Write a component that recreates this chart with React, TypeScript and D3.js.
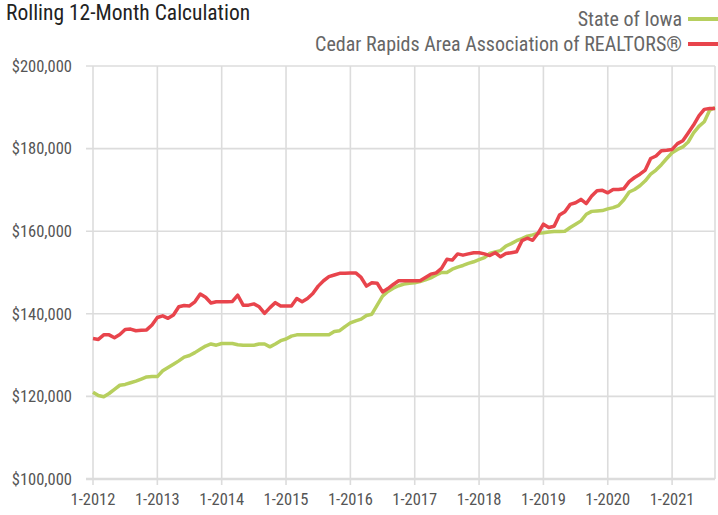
import React from 'react';
import * as d3 from 'd3';

const width = 718;
const height = 515;
const margin = { top: 66, right: 2, bottom: 36, left: 93 };

const yTicks = [100000, 120000, 140000, 160000, 180000, 200000];
const xTickLabels = ['1-2012', '1-2013', '1-2014', '1-2015', '1-2016', '1-2017', '1-2018', '1-2019', '1-2020', '1-2021'];

const seriesNames = ['State of Iowa', 'Cedar Rapids Area Association of REALTORS®'];
const seriesColors = ['#b7cf5e', '#e8444c'];

// monthly rolling 12-month values, 1-2012 .. 9-2021
const iowa = [
  121000, 120200, 119900, 120700, 121700, 122700, 122900, 123300, 123700, 124200, 124700, 124800,
  124800, 126200, 127000, 127800, 128600, 129500, 129900, 130600, 131400, 132200, 132700, 132400,
  132800, 132800, 132800, 132500, 132400, 132400, 132400, 132700, 132700, 132000, 132700, 133500,
  133900, 134600, 134900, 134900, 134900, 134900, 134900, 134900, 134900, 135700, 135900, 136900,
  137800, 138300, 138700, 139600, 139900, 142100, 144300, 145400, 146200, 146800, 147200, 147400,
  147500, 147800, 148200, 148700, 149400, 150000, 150000, 150800, 151300, 151700, 152200, 152600,
  153100, 153600, 154600, 155000, 155300, 156400, 157000, 157700, 158200, 158800, 159100, 159500,
  159600, 159800, 159900, 159900, 160000, 160900, 161700, 162500, 164100, 164800, 164900, 165000,
  165400, 165700, 166200, 167600, 169500, 170100, 171000, 172200, 173800, 174800, 176100, 177600,
  179000, 179800, 180400, 181600, 183800, 185400, 186500, 189300, 189900,
];

const cedarRapids = [
  134000, 133800, 134900, 134900, 134200, 135000, 136200, 136300, 135900, 136000, 136100, 137300,
  139100, 139500, 138900, 139700, 141700, 142000, 141900, 142900, 144800, 144000, 142600, 142900,
  142900, 142900, 143000, 144500, 142100, 142100, 142400, 141700, 140100, 141500, 142700, 141900,
  141900, 141900, 143700, 142900, 143700, 144900, 146700, 148000, 149000, 149400, 149800, 149800,
  149900, 149900, 148800, 146700, 147500, 147400, 145300, 146100, 147100, 148000, 148000, 148000,
  148000, 148000, 148800, 149600, 149900, 151000, 153200, 153000, 154500, 154200, 154500, 154800,
  154800, 154500, 154100, 154800, 153800, 154600, 154800, 155000, 157700, 158300, 157800, 159500,
  161700, 160900, 161200, 163900, 164700, 166500, 166900, 167700, 166700, 168500, 169800, 169900,
  169300, 170100, 170100, 170300, 172000, 173000, 173800, 174800, 177600, 178200, 179500, 179600,
  179800, 181200, 181900, 183800, 185700, 187900, 189500, 189700, 189700,
];

const font = '"Liberation Sans Narrow", "Roboto Condensed", "DejaVu Sans Condensed", sans-serif';

export default function App() {
  const x = d3.scaleLinear()
    .domain([0, iowa.length - 1])
    .range([margin.left, width - margin.right - 1]);
  const y = d3.scaleLinear()
    .domain([100000, 200000])
    .range([height - margin.bottom, margin.top]);

  const line = d3.line<number>()
    .x((_, i) => x(i))
    .y(d => y(d));

  const fmt = d3.format('$,');
  const plotBottom = y(100000);
  const plotRight = x(iowa.length - 1);

  return (
    <svg width={width} height={height} style={{ position: 'absolute', left: 0, top: 0, display: 'block', background: '#fff' }}>
      <text x={6} y={20} fontFamily={font} fontSize={21.5} fill="#222">Rolling 12-Month Calculation</text>

      {seriesNames.map((name, i) => (
        <g key={name}>
          <text x={682} y={26 + i * 25} textAnchor="end" fontFamily={font} fontSize={20} fill="#666">{name}</text>
          <line x1={688} x2={718} y1={19 + i * 25} y2={19 + i * 25} stroke={seriesColors[i]} strokeWidth={4} />
        </g>
      ))}

      {yTicks.map(t => (
        <g key={t}>
          <line x1={86} x2={plotRight} y1={y(t)} y2={y(t)} stroke="#dcdcdc" strokeWidth={t === 100000 ? 2.5 : 1.6} />
          <text x={72} y={y(t)} dy="0.35em" textAnchor="end" fontFamily={font} fontSize={16.5} fill="#555">{fmt(t)}</text>
        </g>
      ))}

      {xTickLabels.map((label, i) => (
        <g key={label}>
          <line x1={x(i * 12)} x2={x(i * 12)} y1={margin.top} y2={plotBottom + 6} stroke="#dcdcdc" strokeWidth={1.6} />
          <text x={x(i * 12)} y={505} textAnchor="middle" fontFamily={font} fontSize={16.5} fill="#555">{label}</text>
        </g>
      ))}
      <line x1={plotRight} x2={plotRight} y1={margin.top} y2={plotBottom} stroke="#dcdcdc" strokeWidth={1.6} />

      <path d={line(iowa) ?? ''} fill="none" stroke={seriesColors[0]} strokeWidth={3.5} strokeLinejoin="round" />
      <path d={line(cedarRapids) ?? ''} fill="none" stroke={seriesColors[1]} strokeWidth={3.5} strokeLinejoin="round" />
    </svg>
  );
}
